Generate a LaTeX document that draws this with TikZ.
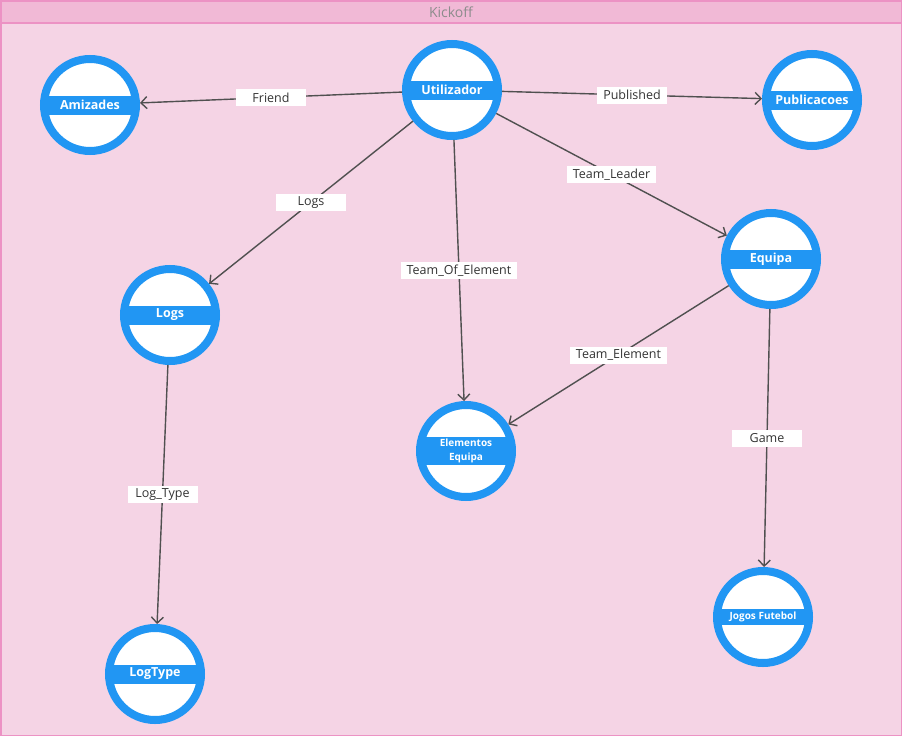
\documentclass[tikz,border=0pt]{standalone}
\usepackage{fontspec}
\setmainfont{Open Sans}
\usetikzlibrary{arrows.meta,positioning}
\definecolor{entblue}{RGB}{33,150,243}
\definecolor{boardbg}{RGB}{245,212,229}
\definecolor{titlebg}{RGB}{241,185,214}
\definecolor{boardline}{RGB}{236,146,196}
\definecolor{edgegray}{RGB}{80,80,80}
\definecolor{lbltext}{RGB}{51,51,51}

\begin{document}
\begin{tikzpicture}[x=1pt,y=-1pt,
  entity/.style={circle,draw=entblue,line width=8pt,fill=white,minimum size=92pt,inner sep=0pt,
    font=\fontsize{12.5}{14}\selectfont\bfseries,text=white,align=center,
    path picture={\fill[entblue] ([yshift=-#1]path picture bounding box.west) rectangle ([yshift=#1]path picture bounding box.east);}},
  entity/.default=9.5pt,
  small/.style={font=\fontsize{10}{14}\selectfont\bfseries},
  rel/.style={draw=edgegray,line width=1.4pt,-{Straight Barb[length=6pt,width=12pt,line width=1.4pt]}},
  lbl/.style={fill=white,text=lbltext,font=\fontsize{12.5}{13}\selectfont,minimum width=70pt,minimum height=17pt,inner xsep=6pt,inner ysep=0pt}]
\useasboundingbox (0,0) rectangle (902,736);
\filldraw[fill=boardbg,draw=boardline,line width=1.5pt] (0.75,0.75) rectangle (901.25,735.25);
\filldraw[fill=titlebg,draw=boardline,line width=1.5pt] (0.75,0.75) rectangle (901.25,23);
\node[font=\fontsize{14}{15}\selectfont,text=black!45] (title) at (451,12) {Kickoff};

\node[entity] (util) at (452,90) {Utilizador};
\node[entity] (amiz) at (90,105) {Amizades};
\node[entity] (publ) at (812,100) {Publicacoes};
\node[entity] (equipa) at (771,259) {Equipa};
\node[entity] (logs) at (170,315) {Logs};
\node[entity=14pt,small] (elem) at (466,451) {Elementos\\Equipa};
\node[entity=8pt,small] (jogos) at (763,617) {Jogos Futebol};
\node[entity] (logtype) at (155,674) {LogType};

\draw[rel] (util) -- node[lbl] {Friend} (amiz);
\draw[rel] (util) -- node[lbl] {Published} (publ);
\draw[rel] (util) -- node[lbl] {Logs} (logs);
\draw[rel] (util) -- node[lbl] {Team\_Of\_Element} (elem);
\draw[rel] (util) -- node[lbl] {Team\_Leader} (equipa);
\draw[rel] (equipa) -- node[lbl] {Team\_Element} (elem);
\draw[rel] (equipa) -- node[lbl] {Game} (jogos);
\draw[rel] (logs) -- node[lbl] {Log\_Type} (logtype);
\end{tikzpicture}
\end{document}
